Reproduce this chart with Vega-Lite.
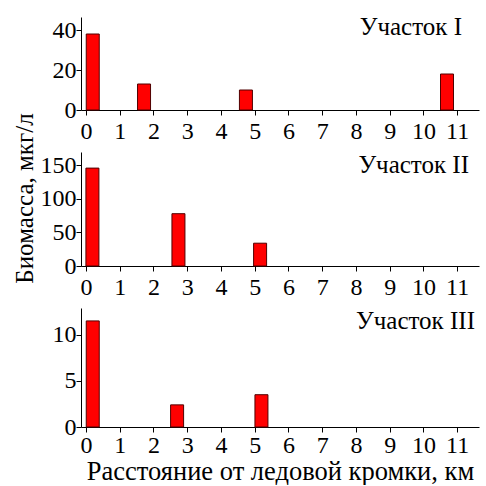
{
  "$schema": "https://vega.github.io/schema/vega-lite/v6.json",
  "padding": {"left": 12, "top": 15, "right": 2, "bottom": 0},
  "spacing": 42,
  "bounds": "flush",
  "config": {
    "font": "Liberation Serif",
    "view": {"stroke": null},
    "axis": {
      "domainColor": "black", "tickColor": "black", "labelColor": "black", "titleColor": "black",
      "grid": false, "labelFont": "Liberation Serif", "titleFont": "Liberation Serif",
      "titleFontWeight": "normal", "tickSize": 5, "labelFontSize": 24, "titleFontSize": 25, "labelOverlap": false
    },
    "axisX": {"values": [0,1,2,3,4,5,6,7,8,9,10,11], "labelDx": 6, "labelPadding": 4, "format": "d"},
    "axisY": {"labelPadding": 0, "labelFontSize": 24, "labelDy": 2},
    "text": {"font": "Liberation Serif", "fontSize": 25, "color": "black", "align": "right", "baseline": "alphabetic"},
    "bar": {"width": 13, "color": "#ff0000", "stroke": "#500000", "strokeWidth": 1}
  },
  "datasets": {
    "bio": [
      {"site": "I", "km": 0.2, "biomass": 38},
      {"site": "I", "km": 1.72, "biomass": 13},
      {"site": "I", "km": 4.74, "biomass": 10},
      {"site": "I", "km": 10.7, "biomass": 18},
      {"site": "II", "km": 0.19, "biomass": 146},
      {"site": "II", "km": 2.74, "biomass": 78},
      {"site": "II", "km": 5.16, "biomass": 34},
      {"site": "III", "km": 0.2, "biomass": 11.5},
      {"site": "III", "km": 2.7, "biomass": 2.4},
      {"site": "III", "km": 5.2, "biomass": 3.5}
    ],
    "labels": [
      {"site": "I", "label": "Участок I"},
      {"site": "II", "label": "Участок II"},
      {"site": "III", "label": "Участок III"}
    ]
  },
  "vconcat": [
    {
      "width": 398, "height": 93,
      "layer": [
        {
          "data": {"name": "bio"},
          "transform": [{"filter": "datum.site == 'I'"}],
          "mark": {"type": "bar"},
          "encoding": {
            "x": {"field": "km", "type": "quantitative", "scale": {"domain": [0, 11.5], "nice": false, "zero": false}, "axis": {"title": null}},
            "y": {"field": "biomass", "type": "quantitative", "scale": {"domain": [0, 46.5], "nice": false}, "axis": {"values": [0, 20, 40], "title": null, "labelDy": 3}}
          }
        },
        {
          "data": {"name": "labels"},
          "transform": [{"filter": "datum.site == 'I'"}],
          "mark": {"type": "text", "dx": -12, "dy": 18},
          "encoding": {
            "x": {"datum": 11.5, "type": "quantitative", "axis": {"title": null}},
            "y": {"datum": 46.5, "type": "quantitative", "axis": {"values": [0, 20, 40], "title": null, "labelDy": 3}},
            "text": {"field": "label"}
          }
        }
      ]
    },
    {
      "width": 398, "height": 114,
      "layer": [
        {
          "data": {"name": "bio"},
          "transform": [{"filter": "datum.site == 'II'"}],
          "mark": {"type": "bar"},
          "encoding": {
            "x": {"field": "km", "type": "quantitative", "scale": {"domain": [0, 11.5], "nice": false, "zero": false}, "axis": {"title": null}},
            "y": {"field": "biomass", "type": "quantitative", "scale": {"domain": [0, 170], "nice": false}, "axis": {"values": [0, 50, 100, 150], "title": "Биомасса, мкг/л", "titleY": 46, "titlePadding": 3}}
          }
        },
        {
          "data": {"name": "labels"},
          "transform": [{"filter": "datum.site == 'II'"}],
          "mark": {"type": "text", "dx": -5, "dy": 21},
          "encoding": {
            "x": {"datum": 11.5, "type": "quantitative", "axis": {"title": null}},
            "y": {"datum": 170, "type": "quantitative", "axis": {"values": [0, 50, 100, 150], "title": "Биомасса, мкг/л", "titleY": 46, "titlePadding": 3}},
            "text": {"field": "label"}
          }
        }
      ]
    },
    {
      "width": 398, "height": 119,
      "layer": [
        {
          "data": {"name": "bio"},
          "transform": [{"filter": "datum.site == 'III'"}],
          "mark": {"type": "bar"},
          "encoding": {
            "x": {"field": "km", "type": "quantitative", "scale": {"domain": [0, 11.5], "nice": false, "zero": false}, "axis": {"title": "Расстояние от ледовой кромки, км", "titlePadding": 1, "labelPadding": 1, "titleFontSize": 26.5}},
            "y": {"field": "biomass", "type": "quantitative", "scale": {"domain": [0, 12.9], "nice": false}, "axis": {"values": [0, 5, 10], "title": null}}
          }
        },
        {
          "data": {"name": "labels"},
          "transform": [{"filter": "datum.site == 'III'"}],
          "mark": {"type": "text", "dx": 1, "dy": 21},
          "encoding": {
            "x": {"datum": 11.5, "type": "quantitative", "axis": {"title": "Расстояние от ледовой кромки, км", "titlePadding": 1, "labelPadding": 1, "titleFontSize": 26.5}},
            "y": {"datum": 12.9, "type": "quantitative", "axis": {"values": [0, 5, 10], "title": null}},
            "text": {"field": "label"}
          }
        }
      ]
    }
  ]
}
